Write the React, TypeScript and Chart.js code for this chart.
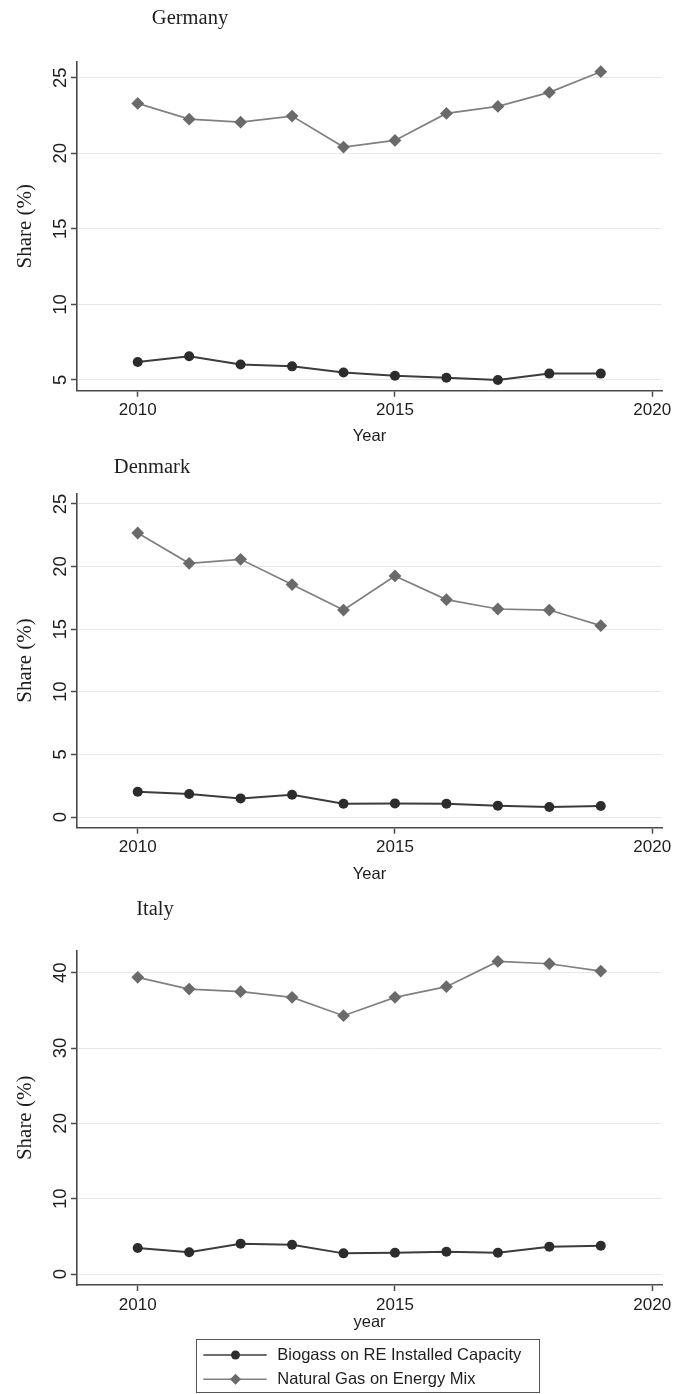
import React, { useEffect, useRef } from "react";
import { Chart, registerables } from "chart.js";

Chart.register(...registerables);

// ---------------- data ----------------
const years = [2010, 2011, 2012, 2013, 2014, 2015, 2016, 2017, 2018, 2019];
const xTickValues = [2010, 2015, 2020];
const seriesLabels = ["Biogass on RE Installed Capacity", "Natural Gas on Energy Mix"];

const germanyBiogas = [6.19, 6.57, 6.02, 5.9, 5.5, 5.28, 5.15, 5.0, 5.42, 5.42];
const germanyGas = [23.3, 22.26, 22.06, 22.46, 20.41, 20.85, 22.64, 23.1, 24.03, 25.4];
const germanyYTicks = [5, 10, 15, 20, 25];

const denmarkBiogas = [2.02, 1.84, 1.49, 1.78, 1.06, 1.09, 1.06, 0.91, 0.8, 0.88];
const denmarkGas = [22.68, 20.26, 20.58, 18.56, 16.53, 19.25, 17.36, 16.61, 16.53, 15.28];
const denmarkYTicks = [0, 5, 10, 15, 20, 25];

const italyBiogas = [3.45, 2.88, 4.03, 3.89, 2.74, 2.83, 2.96, 2.83, 3.63, 3.76];
const italyGas = [39.38, 37.83, 37.48, 36.73, 34.29, 36.73, 38.14, 41.5, 41.19, 40.22];
const italyYTicks = [0, 10, 20, 30, 40];

// ---------------- styles ----------------
const PAGE_W = 683;
const AREA_LEFT = 77;
const AREA_RIGHT = 662;
const SANS = '"Liberation Sans", Arial, Helvetica, sans-serif';
const SERIF = '"Liberation Serif", "Times New Roman", serif';
const TEXT = "#1e1e1e";
const AXIS = "#4a4a4a";
const GRID = "#e8e8e8";
const BIOGAS_LINE = "#3c3c3c";
const BIOGAS_POINT = "#2c2c2c";
const GAS_LINE = "#808080";
const GAS_POINT = "#6a6a6a";
const X_MIN = 2008.82;
const X_MAX = 2020.19;

type Panel = {
  name: string;
  top: number;
  height: number;
  areaTop: number;
  areaBottom: number;
  xTitleY: number;
  titleX: number;
  titleBaseline: number;
  yMin: number;
  yMax: number;
  yTicks: number[];
  biogas: number[];
  gas: number[];
  xTitle: string;
  legend: boolean;
};

const panels: Panel[] = [
  {
    name: "Germany", top: 0, height: 450, areaTop: 61.7, areaBottom: 390.7, xTitleY: 436,
    titleX: 190, titleBaseline: 23.5, yMin: 4.29, yMax: 26.06, yTicks: germanyYTicks,
    biogas: germanyBiogas, gas: germanyGas, xTitle: "Year", legend: false,
  },
  {
    name: "Denmark", top: 450, height: 440, areaTop: 493.3, areaBottom: 827.7, xTitleY: 874,
    titleX: 152, titleBaseline: 472.7, yMin: -0.85, yMax: 25.85, yTicks: denmarkYTicks,
    biogas: denmarkBiogas, gas: denmarkGas, xTitle: "Year", legend: false,
  },
  {
    name: "Italy", top: 890, height: 504, areaTop: 950.7, areaBottom: 1285, xTitleY: 1322,
    titleX: 155, titleBaseline: 915, yMin: -1.46, yMax: 42.92, yTicks: italyYTicks,
    biogas: italyBiogas, gas: italyGas, xTitle: "year", legend: true,
  },
];

const X_TITLE_SIZE = 16.5;
const X_TICK_SIZE = 17;
const Y_TICK_SIZE = 18.5;
const Y_TITLE_SIZE = 21;
const TICK_LEN = 6;

function drawDiamond(ctx: CanvasRenderingContext2D, x: number, y: number, r: number) {
  ctx.beginPath();
  ctx.moveTo(x - r, y);
  ctx.lineTo(x, y - r);
  ctx.lineTo(x + r, y);
  ctx.lineTo(x, y + r);
  ctx.closePath();
  ctx.fill();
}

function PanelChart({ panel }: { panel: Panel }) {
  const ref = useRef<HTMLCanvasElement | null>(null);

  useEffect(() => {
    const canvas = ref.current;
    if (!canvas) return;
    const xTitleBottom = panel.xTitleY + (X_TITLE_SIZE * 1.2) / 2;

    const decor = {
      id: "panelDecor",
      afterDraw(chart: any) {
        const ctx = chart.ctx as CanvasRenderingContext2D;
        ctx.save();
        ctx.fillStyle = TEXT;
        ctx.font = `20.5px ${SERIF}`;
        ctx.textAlign = "center";
        ctx.textBaseline = "alphabetic";
        ctx.fillText(panel.name, panel.titleX, panel.titleBaseline - panel.top);

        if (panel.legend) {
          const bx = 196.5;
          const by = 1339.5 - panel.top;
          const bw = 343;
          const bh = 53;
          ctx.strokeStyle = "#555555";
          ctx.lineWidth = 1;
          ctx.strokeRect(bx, by, bw, bh);
          const rows = [
            { y: 1355 - panel.top, line: BIOGAS_LINE, point: BIOGAS_POINT, kind: "circle", label: seriesLabels[0] },
            { y: 1379.3 - panel.top, line: GAS_LINE, point: GAS_POINT, kind: "diamond", label: seriesLabels[1] },
          ];
          for (const r of rows) {
            ctx.strokeStyle = r.line;
            ctx.lineWidth = 1.6;
            ctx.beginPath();
            ctx.moveTo(203.3, r.y);
            ctx.lineTo(266.7, r.y);
            ctx.stroke();
            ctx.fillStyle = r.point;
            if (r.kind === "circle") {
              ctx.beginPath();
              ctx.arc(235.5, r.y, 4.5, 0, Math.PI * 2);
              ctx.fill();
            } else {
              drawDiamond(ctx, 235.5, r.y, 5.5);
            }
            ctx.fillStyle = TEXT;
            ctx.font = `16.5px ${SANS}`;
            ctx.textAlign = "left";
            ctx.textBaseline = "middle";
            ctx.fillText(r.label, 277.3, r.y);
          }
        }
        ctx.restore();
      },
    };

    const chart = new Chart(canvas, {
      type: "line",
      data: {
        datasets: [
          {
            label: seriesLabels[0],
            data: years.map((yr, i) => ({ x: yr, y: panel.biogas[i] })),
            borderColor: BIOGAS_LINE,
            backgroundColor: BIOGAS_POINT,
            borderWidth: 2,
            pointStyle: "circle",
            pointRadius: 5,
            pointBorderWidth: 0,
            pointBackgroundColor: BIOGAS_POINT,
            pointBorderColor: BIOGAS_POINT,
            tension: 0,
          },
          {
            label: seriesLabels[1],
            data: years.map((yr, i) => ({ x: yr, y: panel.gas[i] })),
            borderColor: GAS_LINE,
            backgroundColor: GAS_POINT,
            borderWidth: 1.7,
            pointStyle: "rectRot",
            pointRadius: 6.4,
            pointBorderWidth: 0,
            pointBackgroundColor: GAS_POINT,
            pointBorderColor: GAS_POINT,
            tension: 0,
          },
        ],
      },
      options: {
        responsive: false,
        animation: false,
        events: [],
        layout: {
          padding: {
            left: 0,
            right: PAGE_W - AREA_RIGHT,
            top: panel.areaTop - panel.top,
            bottom: panel.top + panel.height - xTitleBottom,
          },
        },
        plugins: {
          legend: { display: false },
          tooltip: { enabled: false },
          title: { display: false },
        },
        scales: {
          x: {
            type: "linear",
            position: "bottom",
            min: X_MIN,
            max: X_MAX,
            afterBuildTicks: (scale: any) => {
              scale.ticks = xTickValues.map((v) => ({ value: v }));
            },
            afterFit: (scale: any) => {
              scale.height = xTitleBottom - panel.areaBottom;
            },
            grid: {
              drawOnChartArea: false,
              drawTicks: true,
              tickLength: TICK_LEN,
              tickColor: AXIS,
              tickWidth: 1.5,
            },
            border: { display: true, color: AXIS, width: 1.6 },
            ticks: {
              autoSkip: false,
              maxRotation: 0,
              minRotation: 0,
              padding: 3.8,
              color: TEXT,
              font: { family: SANS, size: X_TICK_SIZE },
              callback: (v: any) => String(v),
            },
            title: {
              display: true,
              text: panel.xTitle,
              color: TEXT,
              font: { family: SANS, size: X_TITLE_SIZE },
              padding: { top: 0, bottom: 0 },
            },
          },
          y: {
            type: "linear",
            position: "left",
            min: panel.yMin,
            max: panel.yMax,
            afterBuildTicks: (scale: any) => {
              scale.ticks = panel.yTicks.map((v) => ({ value: v }));
            },
            afterFit: (scale: any) => {
              scale.width = AREA_LEFT;
            },
            grid: {
              color: GRID,
              lineWidth: 1,
              drawTicks: true,
              tickLength: TICK_LEN,
              tickColor: AXIS,
              tickWidth: 1.5,
            },
            border: { display: true, color: AXIS, width: 1.6 },
            ticks: {
              autoSkip: false,
              minRotation: 90,
              maxRotation: 90,
              crossAlign: "center",
              padding: 0,
              color: TEXT,
              font: { family: SANS, size: Y_TICK_SIZE },
              callback: (v: any) => String(v),
            },
            title: {
              display: true,
              text: "Share (%)",
              color: TEXT,
              font: { family: SERIF, size: Y_TITLE_SIZE },
              padding: { top: 12.4, bottom: 0 },
            },
          },
        },
      },
      plugins: [decor],
    } as any);

    return () => chart.destroy();
  }, [panel]);

  return (
    <canvas
      ref={ref}
      width={PAGE_W}
      height={panel.height}
      style={{ position: "absolute", left: 0, top: panel.top, display: "block" }}
    />
  );
}

export default function App() {
  return (
    <div style={{ position: "absolute", left: 0, top: 0, width: PAGE_W, height: 1394, background: "#ffffff" }}>
      {panels.map((p) => (
        <PanelChart key={p.name} panel={p} />
      ))}
    </div>
  );
}
